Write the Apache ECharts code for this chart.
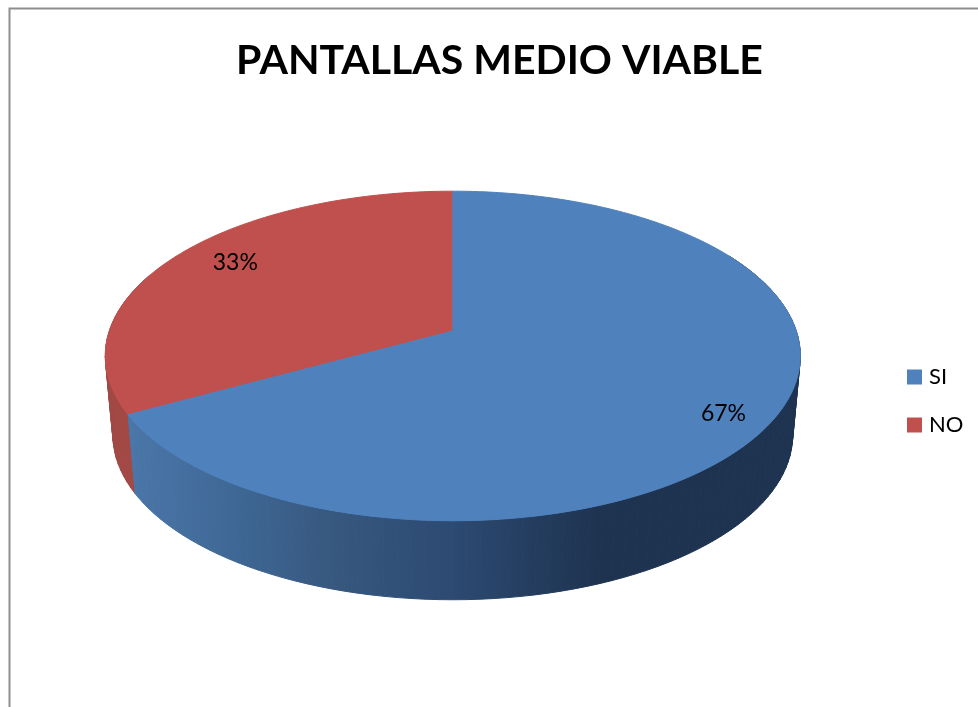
<!DOCTYPE html>
<html>
<head>
<meta charset="utf-8">
<style>html,body{margin:0;padding:0;background:#fff}#chart{width:978px;height:707px}</style>
<script src="https://cdn.jsdelivr.net/npm/echarts@6/dist/echarts.min.js"></script>
</head>
<body>
<div id="chart"></div>
<script>
// Chart content
const chartTitle = 'PANTALLAS MEDIO VIABLE';
const categories = ['SI', 'NO'];
const shares = [67, 33];

// Perspective disc: the tilted top face and the slightly smaller base below it
const TILT = 0.1515;
const TOP_DISC = { cx: 452.8, cy: 331, rx: 343.5, ry: 161 };
const BASE_DISC = { cx: 452.8, cy: 410, rx: 336, ry: 161 };

// Per-slice appearance
const TOP_COLORS = ['#4F81BD', '#C0504D'];
const BLUE_WALL = {
  type: 'linear', x: 130, y: 0, x2: 800, y2: 0, global: true,
  colorStops: [
    { offset: 0, color: '#4A76A8' },
    { offset: 0.15, color: '#3F6896' },
    { offset: 0.3, color: '#37587F' },
    { offset: 0.48, color: '#2C4A72' },
    { offset: 0.7, color: '#1E3350' },
    { offset: 1, color: '#1E3350' }
  ]
};
const WALLS = [BLUE_WALL, '#A24845'];
const WALL_OVERHANG = [60, 50];
const LABEL_PLACE = [{ r: 0.855, dy: 8 }, { r: 0.78, dy: -8 }];

const total = shares.reduce((a, b) => a + b, 0);

// Clockwise from twelve o'clock, in degrees, on the unprojected disc
function project(disc, deg, r = 1) {
  const t = deg * Math.PI / 180;
  const u = r * Math.sin(t);
  const v = -r * Math.cos(t);
  const w = 1 - TILT * v;
  return [disc.cx + disc.rx * u / w, disc.cy + disc.ry * v / w];
}

function sliceRange(index) {
  let start = 0;
  for (let i = 0; i < index; i++) start += shares[i] / total * 360;
  return [start, start + shares[index] / total * 360];
}

function drawSlice(index) {
  return function (params, api) {
    const [from, to] = sliceRange(api.value(1));
    const children = [];

    // Side wall: only the front part of the rim, built from thin strips so the
    // outline stays tangent between the top and the base
    const wallFrom = index === 0 ? from + WALL_OVERHANG[0] : from;
    const wallTo = index === 0 ? to : from + WALL_OVERHANG[1];
    const step = 2;
    for (let a = wallFrom; a < wallTo; a += step) {
      const b = Math.min(a + step, wallTo);
      children.push({
        type: 'polygon',
        shape: { points: [project(TOP_DISC, a), project(TOP_DISC, b), project(BASE_DISC, b), project(BASE_DISC, a)] },
        style: { fill: WALLS[index], stroke: WALLS[index], lineWidth: 1 }
      });
    }

    // Top face, outlined in its own colour so no wall strip shows past the rim
    const points = [[TOP_DISC.cx, TOP_DISC.cy]];
    for (let a = from; a < to; a += 1) points.push(project(TOP_DISC, a));
    points.push(project(TOP_DISC, to));
    children.push({
      type: 'polygon',
      shape: { points },
      style: { fill: TOP_COLORS[index], stroke: TOP_COLORS[index], lineWidth: 1 }
    });

    // Percentage label
    const place = LABEL_PLACE[index];
    const mid = project(TOP_DISC, (from + to) / 2, place.r);
    children.push({
      type: 'text',
      style: {
        x: mid[0], y: mid[1] + place.dy,
        text: api.value(0) + '%',
        fill: '#000',
        font: '23px Lato',
        align: 'center',
        verticalAlign: 'middle'
      }
    });
    return { type: 'group', children };
  };
}

const chart = echarts.init(document.getElementById('chart'), null, { renderer: 'canvas' });
chart.setOption({
  animation: false,
  backgroundColor: '#fff',
  title: {
    text: chartTitle,
    left: 494.5,
    textAlign: 'center',
    top: 35,
    textStyle: { fontFamily: 'Lato', fontWeight: 'bold', fontSize: 41, color: '#000' }
  },
  legend: {
    orient: 'vertical',
    left: 907,
    top: 365,
    padding: 0,
    itemWidth: 15,
    itemHeight: 15,
    itemGap: 24,
    icon: 'rect',
    data: categories,
    textStyle: { fontFamily: 'Lato', fontSize: 22, lineHeight: 24, color: '#000', padding: [0, 0, 0, 2] }
  },
  graphic: [{
    type: 'polyline',
    silent: true,
    shape: { points: [[9.5, 707], [9.5, 8.5], [978, 8.5]] },
    style: { fill: null, stroke: '#8E8E8E', lineWidth: 2 }
  }],
  series: categories.map((name, i) => ({
    type: 'custom',
    name,
    coordinateSystem: 'none',
    z: i === 0 ? 3 : 2,
    itemStyle: { color: TOP_COLORS[i] },
    renderItem: drawSlice(i),
    data: [[shares[i], i]]
  }))
});
</script>
</body>
</html>
